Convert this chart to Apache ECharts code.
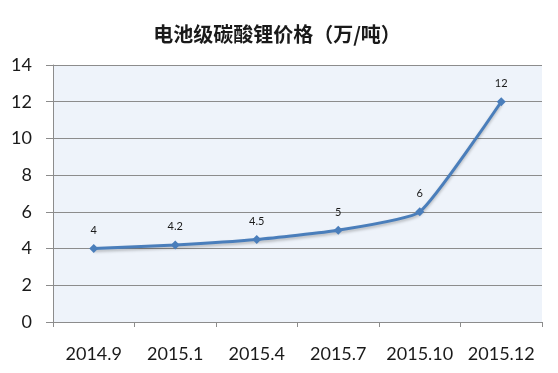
<!DOCTYPE html>
<html>
<head>
<meta charset="utf-8">
<script src="https://cdn.jsdelivr.net/npm/echarts@6/dist/echarts.min.js"></script>
<style>
html,body{margin:0;padding:0;background:#fff;}
#chart{width:558px;height:373px;}
</style>
</head>
<body>
<div id="chart"></div>
<script>
const titleText = '电池级碳酸锂价格（万/吨）';
const categories = ['2014.9', '2015.1', '2015.4', '2015.7', '2015.10', '2015.12'];
const prices = [4, 4.2, 4.5, 5, 6, 12];
const yTicks = [0, 2, 4, 6, 8, 10, 12, 14];

const chart = echarts.init(document.getElementById('chart'), null, {renderer: 'canvas'});
chart.setOption({
  animation: false,
  backgroundColor: '#ffffff',
  title: {
    text: titleText,
    left: 272,
    textAlign: 'center',
    top: 19,
    textStyle: {
      fontFamily: 'Noto Sans CJK SC',
      fontSize: 20,
      fontWeight: 'bold',
      color: '#1a1a1a'
    }
  },
  grid: {
    left: 53, right: 16, top: 65, bottom: 51,
    show: true,
    backgroundColor: '#eef3fa',
    borderWidth: 0
  },
  xAxis: {
    type: 'category',
    data: categories,
    boundaryGap: true,
    axisLine: {show: true, lineStyle: {color: '#8c8c8c', width: 1}},
    axisTick: {show: true, length: 5, interval: 0, alignWithLabel: false, lineStyle: {color: '#8c8c8c'}},
    axisLabel: {
      interval: 0,
      margin: 23,
      fontFamily: 'Lato',
      fontSize: 18,
      color: '#1a1a1a'
    },
    splitLine: {show: false}
  },
  yAxis: {
    type: 'value',
    min: yTicks[0],
    max: yTicks[yTicks.length - 1],
    interval: 2,
    axisLine: {show: true, lineStyle: {color: '#8c8c8c', width: 1}},
    axisTick: {show: true, length: 7, lineStyle: {color: '#8c8c8c'}},
    axisLabel: {
      margin: 21,
      fontFamily: 'Lato',
      fontSize: 18,
      color: '#1a1a1a'
    },
    splitLine: {show: true, lineStyle: {color: '#8c8c8c', width: 1}}
  },
  series: [{
    type: 'line',
    data: prices,
    smooth: 0.15,
    symbol: 'diamond',
    symbolSize: 9,
    lineStyle: {color: '#4a7ebb', width: 3, shadowColor: 'rgba(0,0,0,0.25)', shadowBlur: 3, shadowOffsetY: 2},
    itemStyle: {color: '#4a7ebb'},
    label: {
      show: true,
      position: 'top',
      distance: 8,
      fontFamily: 'Lato',
      fontSize: 11,
      color: '#1a1a1a'
    }
  }]
});
</script>
</body>
</html>
